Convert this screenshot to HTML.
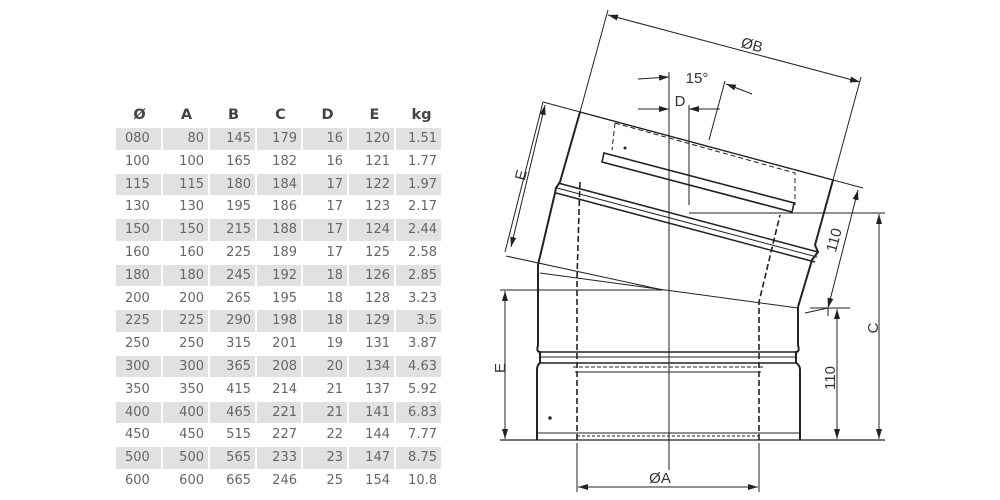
<!DOCTYPE html>
<html><head><meta charset="utf-8"><style>
html,body{margin:0;padding:0;background:#fff;width:1000px;height:500px;overflow:hidden;position:relative}
svg{display:block;position:absolute;left:0;top:0}
#tb{position:absolute;left:116px;top:128px;font-family:"DejaVu Sans",sans-serif;font-size:13px;color:#666}
#hd{position:absolute;left:116px;top:107px;font-family:"DejaVu Sans",sans-serif;font-weight:bold;font-size:14.5px;color:#444;display:flex}
#hd span{width:47px;text-align:center}
.r{display:flex;height:22.8px}
.r span{display:block;height:21.5px;line-height:22px;margin-right:2px;text-align:right;padding-right:4px;box-sizing:border-box}
.r span:nth-child(1){width:45px;text-align:left;padding-left:9px}
.r span:nth-child(2),.r span:nth-child(3),.r span:nth-child(6),.r span:nth-child(7){width:45px}
.r span:nth-child(4),.r span:nth-child(5){width:44px}
.g span{background:#e1e1e1}
.d{font-family:"Liberation Sans",sans-serif;font-size:15px;fill:#333}
</style></head><body>
<div id="hd"><span>Ø</span><span>A</span><span>B</span><span>C</span><span>D</span><span>E</span><span>kg</span></div>
<div id="tb">
<div class="r g"><span>080</span><span>80</span><span>145</span><span>179</span><span>16</span><span>120</span><span>1.51</span></div>
<div class="r"><span>100</span><span>100</span><span>165</span><span>182</span><span>16</span><span>121</span><span>1.77</span></div>
<div class="r g"><span>115</span><span>115</span><span>180</span><span>184</span><span>17</span><span>122</span><span>1.97</span></div>
<div class="r"><span>130</span><span>130</span><span>195</span><span>186</span><span>17</span><span>123</span><span>2.17</span></div>
<div class="r g"><span>150</span><span>150</span><span>215</span><span>188</span><span>17</span><span>124</span><span>2.44</span></div>
<div class="r"><span>160</span><span>160</span><span>225</span><span>189</span><span>17</span><span>125</span><span>2.58</span></div>
<div class="r g"><span>180</span><span>180</span><span>245</span><span>192</span><span>18</span><span>126</span><span>2.85</span></div>
<div class="r"><span>200</span><span>200</span><span>265</span><span>195</span><span>18</span><span>128</span><span>3.23</span></div>
<div class="r g"><span>225</span><span>225</span><span>290</span><span>198</span><span>18</span><span>129</span><span>3.5</span></div>
<div class="r"><span>250</span><span>250</span><span>315</span><span>201</span><span>19</span><span>131</span><span>3.87</span></div>
<div class="r g"><span>300</span><span>300</span><span>365</span><span>208</span><span>20</span><span>134</span><span>4.63</span></div>
<div class="r"><span>350</span><span>350</span><span>415</span><span>214</span><span>21</span><span>137</span><span>5.92</span></div>
<div class="r g"><span>400</span><span>400</span><span>465</span><span>221</span><span>21</span><span>141</span><span>6.83</span></div>
<div class="r"><span>450</span><span>450</span><span>515</span><span>227</span><span>22</span><span>144</span><span>7.77</span></div>
<div class="r g"><span>500</span><span>500</span><span>565</span><span>233</span><span>23</span><span>147</span><span>8.75</span></div>
<div class="r"><span>600</span><span>600</span><span>665</span><span>246</span><span>25</span><span>154</span><span>10.8</span></div>
</div>
<svg width="1000" height="500" viewBox="0 0 1000 500" xmlns="http://www.w3.org/2000/svg">
<defs>
<marker id="a" viewBox="0 0 10 6" refX="10" refY="3" markerWidth="10" markerHeight="6" orient="auto-start-reverse" markerUnits="userSpaceOnUse"><path d="M0,0 L10,3 L0,6 z" fill="#222"/></marker>
</defs>
<g stroke="#222" fill="none" stroke-width="1">
<line x1="669" y1="72" x2="669" y2="470"/>
<line x1="689" y1="105" x2="689" y2="205"/>
<line x1="689" y1="213" x2="885" y2="213"/>
<line x1="500" y1="440" x2="885" y2="440" stroke-width="1.3"/>
<line x1="500" y1="290" x2="663" y2="290"/>
<path d="M538,278 L538,345 Q536,352 540,352 L540,363 Q537,365 537,370 L537,440" stroke-width="2"/>
<path d="M798,307 L798,345 Q800,352 796,352 L796,363 Q800,365 800,370 L800,440" stroke-width="2"/>
<line x1="540" y1="352" x2="796" y2="352" stroke-width="1.5"/>
<line x1="540" y1="357" x2="796" y2="357"/>
<line x1="540" y1="363" x2="796" y2="363" stroke-width="1.5"/>
<line x1="573" y1="367" x2="763" y2="367" stroke-dasharray="4,2"/>
<line x1="575" y1="372" x2="761" y2="372"/>
<line x1="538" y1="433" x2="800" y2="433"/>
<path d="M577,440 L577,278 L580,180" stroke-width="1.6" stroke-dasharray="6,3"/>
<path d="M759,440 L759,302 L780,215" stroke-width="1.6" stroke-dasharray="6,3"/>
<line x1="577" y1="436" x2="759" y2="436" stroke-dasharray="3,2"/>
<line x1="540" y1="273" x2="798" y2="308"/>
<line x1="506" y1="256" x2="663" y2="290"/>
<line x1="543" y1="102" x2="863" y2="188"/>
<path d="M580,112 L560,182 L556,188 L555,193 L538,265 L538,278" stroke-width="2"/>
<path d="M833,180 L815,245 L818,252 L812,260 L798,307" stroke-width="2"/>
<line x1="580" y1="112" x2="833" y2="180" stroke-width="1.3"/>
<line x1="558" y1="183" x2="818" y2="252" stroke-width="1.5"/>
<line x1="557" y1="188" x2="817" y2="257"/>
<line x1="556" y1="193" x2="815" y2="262" stroke-width="1.5"/>
<path d="M615,123 L795,173 L795,205" stroke-dasharray="5,3"/>
<path d="M615,123 L612,150" stroke-dasharray="5,3"/>
<path d="M604,153 L794,203 L792,212 L602,162 Z" stroke-width="1.6"/>
<circle cx="625" cy="148" r="1" fill="#222"/>
<circle cx="550" cy="418" r="1.2" fill="#222"/>
<line x1="580" y1="112" x2="608" y2="10"/>
<line x1="833" y1="180" x2="861" y2="77"/>
<line x1="608" y1="15" x2="860" y2="82" marker-start="url(#a)" marker-end="url(#a)"/>
<line x1="543" y1="102" x2="505" y2="252"/>
<line x1="545" y1="105" x2="511" y2="247" marker-start="url(#a)" marker-end="url(#a)"/>
<line x1="858" y1="190" x2="828" y2="308" marker-start="url(#a)" marker-end="url(#a)"/>
<path d="M805,313 L828,308 L828,316"/>
<line x1="638" y1="109" x2="669" y2="109" marker-end="url(#a)"/>
<line x1="720" y1="109" x2="689" y2="109" marker-end="url(#a)"/>
<line x1="638" y1="79" x2="669" y2="77" marker-end="url(#a)"/>
<line x1="709" y1="140" x2="725" y2="81"/>
<line x1="752" y1="94" x2="726" y2="84" marker-end="url(#a)"/>
<line x1="505" y1="291" x2="505" y2="439" marker-start="url(#a)" marker-end="url(#a)"/>
<line x1="810" y1="308" x2="850" y2="308"/>
<line x1="837" y1="309" x2="837" y2="439" marker-start="url(#a)" marker-end="url(#a)"/>
<line x1="879" y1="214" x2="879" y2="439" marker-start="url(#a)" marker-end="url(#a)"/>
<line x1="577" y1="443" x2="577" y2="492"/>
<line x1="759" y1="443" x2="759" y2="492"/>
<line x1="578" y1="487" x2="758" y2="487" marker-start="url(#a)" marker-end="url(#a)"/>
</g>
<text class="d" x="752" y="50" text-anchor="middle" transform="rotate(15 752 45)">ØB</text>
<text class="d" x="697" y="83" text-anchor="middle">15°</text>
<text class="d" x="680" y="106" text-anchor="middle">D</text>
<text class="d" x="521" y="180" text-anchor="middle" transform="rotate(-75 521 175)">E</text>
<text class="d" x="500" y="373" text-anchor="middle" transform="rotate(-90 500 368)">E</text>
<text class="d" x="834" y="245" text-anchor="middle" transform="rotate(-75 834 240)">110</text>
<text class="d" x="830" y="383" text-anchor="middle" transform="rotate(-90 830 378)">110</text>
<text class="d" x="873" y="333" text-anchor="middle" transform="rotate(-90 873 328)">C</text>
<text class="d" x="660" y="483" text-anchor="middle">ØA</text>
</svg>
</body></html>
